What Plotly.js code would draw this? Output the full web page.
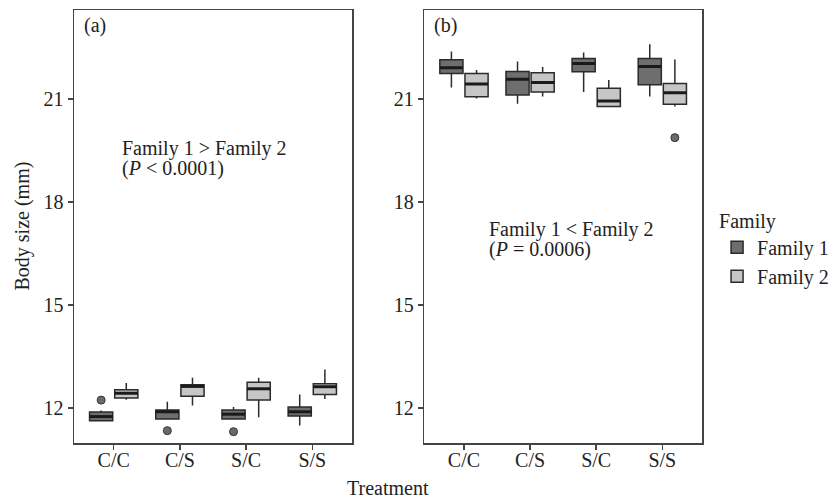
<!DOCTYPE html>
<html>
<head>
<meta charset="utf-8">
<script src="https://cdn.plot.ly/plotly-3.0.1.min.js"></script>
<style>html,body{margin:0;padding:0;background:#fff;}#chart{width:830px;height:501px;}</style>
</head>
<body>
<div id="chart"></div>
<script>
// ---- data ----
const categories = ['C/C', 'C/S', 'S/C', 'S/S'];
const families = ['Family 1', 'Family 2'];

// Panel (a)
const a_f1_lower  = [11.62, 11.68, 11.68, 11.49];
const a_f1_q1     = [11.63, 11.68, 11.68, 11.77];
const a_f1_median = [11.75, 11.89, 11.82, 11.89];
const a_f1_q3     = [11.88, 11.94, 11.94, 12.03];
const a_f1_upper  = [11.93, 12.18, 12.03, 12.39];
const a_f1_outCat = ['C/C', 'C/S', 'S/C'];
const a_f1_outVal = [12.23, 11.34, 11.31];

const a_f2_lower  = [12.24, 12.07, 11.73, 12.26];
const a_f2_q1     = [12.29, 12.34, 12.23, 12.39];
const a_f2_median = [12.43, 12.63, 12.56, 12.62];
const a_f2_q3     = [12.53, 12.68, 12.75, 12.71];
const a_f2_upper  = [12.73, 12.88, 12.88, 13.12];
const a_f2_outCat = [];
const a_f2_outVal = [];

// Panel (b)
const b_f1_lower  = [21.34, 20.87, 21.21, 21.08];
const b_f1_q1     = [21.75, 21.12, 21.80, 21.42];
const b_f1_median = [21.92, 21.58, 22.04, 21.95];
const b_f1_q3     = [22.15, 21.81, 22.19, 22.19];
const b_f1_upper  = [22.39, 22.10, 22.36, 22.60];
const b_f1_outCat = [];
const b_f1_outVal = [];

const b_f2_lower  = [21.02, 21.08, 20.79, 20.79];
const b_f2_q1     = [21.07, 21.21, 20.79, 20.85];
const b_f2_median = [21.44, 21.49, 20.95, 21.19];
const b_f2_q3     = [21.75, 21.77, 21.32, 21.46];
const b_f2_upper  = [21.85, 21.94, 21.56, 22.16];
const b_f2_outCat = ['S/S'];
const b_f2_outVal = [19.88];

const yTicks = [12, 15, 18, 21];

// ---- styling ----
const FONT = 'Liberation Serif, Times New Roman, serif';
const TXT = '#222';
const fills = ['#6e6e6e', '#c6c6c6'];
const edge = '#2b2b2b';
const dodge = [-0.19, 0.19];
const boxW = 0.35;

const idx = c => categories.indexOf(c);

function boxTrace(fi, xa, ya, lower, q1, med, q3, upper, showleg) {
  return {
    type: 'box', name: families[fi], legendgroup: families[fi], showlegend: showleg,
    x: categories.map((c, i) => i + dodge[fi]),
    lowerfence: lower, q1: q1, median: med, q3: q3, upperfence: upper,
    width: boxW, whiskerwidth: 0,
    fillcolor: fills[fi], line: {color: edge, width: 1.5},
    boxpoints: false, xaxis: xa, yaxis: ya, hoverinfo: 'skip'
  };
}
function medianTrace(fi, xa, ya, med) {
  const xs = [], ys = [];
  med.forEach((m, i) => {
    const c = i + dodge[fi];
    xs.push(c - boxW / 2, c + boxW / 2, null);
    ys.push(m, m, null);
  });
  return {type: 'scatter', mode: 'lines', x: xs, y: ys, xaxis: xa, yaxis: ya,
    line: {color: '#1a1a1a', width: 3}, showlegend: false, hoverinfo: 'skip'};
}
function outTrace(fi, xa, ya, cats, vals) {
  return {type: 'scatter', mode: 'markers', x: cats.map(c => idx(c) + dodge[fi]), y: vals,
    xaxis: xa, yaxis: ya, showlegend: false, hoverinfo: 'skip',
    marker: {size: 8, color: '#6a6a6a', line: {color: '#333', width: 1}}};
}

const data = [
  boxTrace(0, 'x', 'y', a_f1_lower, a_f1_q1, a_f1_median, a_f1_q3, a_f1_upper, true),
  boxTrace(1, 'x', 'y', a_f2_lower, a_f2_q1, a_f2_median, a_f2_q3, a_f2_upper, true),
  boxTrace(0, 'x2', 'y2', b_f1_lower, b_f1_q1, b_f1_median, b_f1_q3, b_f1_upper, false),
  boxTrace(1, 'x2', 'y2', b_f2_lower, b_f2_q1, b_f2_median, b_f2_q3, b_f2_upper, false),
  medianTrace(0, 'x', 'y', a_f1_median), medianTrace(1, 'x', 'y', a_f2_median),
  medianTrace(0, 'x2', 'y2', b_f1_median), medianTrace(1, 'x2', 'y2', b_f2_median),
  outTrace(0, 'x', 'y', a_f1_outCat, a_f1_outVal), outTrace(1, 'x', 'y', a_f2_outCat, a_f2_outVal),
  outTrace(0, 'x2', 'y2', b_f1_outCat, b_f1_outVal), outTrace(1, 'x2', 'y2', b_f2_outCat, b_f2_outVal)
];

const axLine = {showline: true, mirror: true, linecolor: '#444', linewidth: 1.5,
  showgrid: false, zeroline: false, ticks: 'outside', ticklen: 5, tickwidth: 1.5, tickcolor: '#444',
  tickfont: {family: FONT, size: 20, color: TXT}};
const xBase = Object.assign({}, axLine, {range: [-0.6, 3.6], tickvals: categories.map((c, i) => i),
  ticktext: categories, ticklabelstandoff: -7});
const yBase = Object.assign({}, axLine, {range: [10.98, 23.6], tickvals: yTicks, ticktext: yTicks.map(String)});

const ann = (text, xref, yref, x, y, extra) => Object.assign({text, xref, yref, x, y, showarrow: false,
  xanchor: 'left', yanchor: 'middle', font: {family: FONT, size: 20, color: TXT}}, extra || {});

const layout = {
  width: 830, height: 501,
  margin: {l: 74, r: 128, t: 10, b: 58, autoexpand: false},
  paper_bgcolor: '#fff', plot_bgcolor: '#fff',
  font: {family: FONT, size: 20, color: TXT},
  xaxis: Object.assign({}, xBase, {domain: [0, 0.4427], anchor: 'y'}),
  yaxis: Object.assign({}, yBase, {anchor: 'x'}),
  xaxis2: Object.assign({}, xBase, {domain: [0.5578, 1], anchor: 'y2'}),
  yaxis2: Object.assign({}, yBase, {anchor: 'x2'}),
  showlegend: true,
  legend: {x: 1.024, y: 0.557, xanchor: 'left', yanchor: 'top',
    title: {text: 'Family', font: {family: FONT, size: 20, color: TXT}},
    font: {family: FONT, size: 20, color: TXT}, bgcolor: 'rgba(0,0,0,0)', tracegroupgap: 0},
  annotations: [
    ann('(a)', 'x domain', 'y domain', 0.029, 0.965),
    ann('(b)', 'x2 domain', 'y2 domain', 0.029, 0.965),
    ann('Family 1 &gt; Family 2', 'x domain', 'y domain', 0.1655, 0.679),
    ann('(<i>P</i> &lt; 0.0001)', 'x domain', 'y domain', 0.1655, 0.633),
    ann('Family 1 &lt; Family 2', 'x2 domain', 'y2 domain', 0.226, 0.492),
    ann('(<i>P</i> = 0.0006)', 'x2 domain', 'y2 domain', 0.226, 0.446),
    ann('Body size (mm)', 'paper', 'paper', -0.0828, 0.5, {xanchor: 'center', textangle: -90}),
    ann('Treatment', 'paper', 'paper', 0.5, -0.105, {xanchor: 'center'})
  ]
};

Plotly.newPlot('chart', data, layout, {staticPlot: true, displayModeBar: false});
</script>
</body>
</html>
